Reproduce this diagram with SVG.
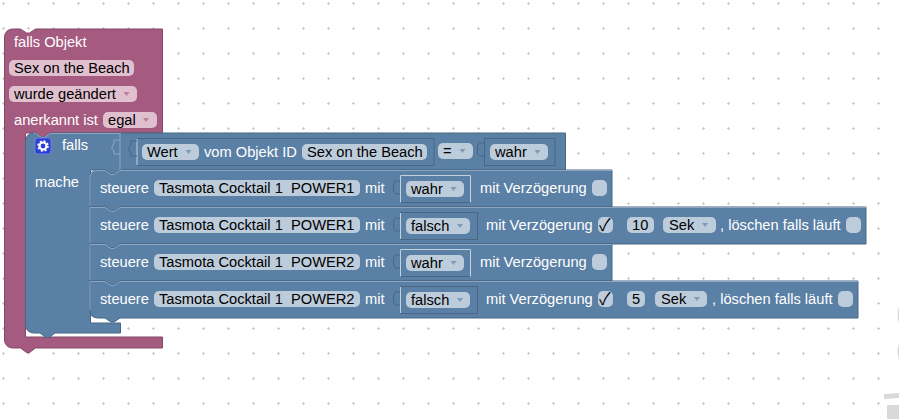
<svg xmlns="http://www.w3.org/2000/svg" width="899" height="419" viewBox="0 0 899 419">
<defs>
<pattern id="grid" width="25" height="25" patternUnits="userSpaceOnUse" x="0" y="0"><path d="M2 3.500h3M3.500 2v3" stroke="#ccc" stroke-width="1"/></pattern>
</defs>
<style>
text{font-family:"Liberation Sans",Arial,sans-serif;font-size:14.670px}
.w{fill:#fff}
.k{fill:#000}
.f{fill:#bdccdb}
.fp{fill:#e0bfcf}
.a{fill:#5b80a5}
.ap{fill:#a55b80}
.tri{fill:#5b80a5;opacity:.65}
.trp{fill:#a55b80;opacity:.65}
.box{fill:none;stroke:#496684;stroke-width:1}
.lt{fill:none;stroke:#c3d1df;stroke-width:1}
.hl{fill:none;stroke:#8ca6c0;stroke-width:1}
.b{fill:#5b80a5;stroke:#496684;stroke-width:1}
.chk{font-family:"Noto Sans CJK SC","DejaVu Sans",sans-serif;font-size:17px}
</style>
<rect width="899" height="419" fill="#fff"/>
<rect width="899" height="419" fill="url(#grid)"/>
<g id="bg-icons" fill="#d9d9d9">
<path d="M899 307q-3 8 0 16zM899 344q-3 7 0 15z"/>
<path d="M884 394l15-1v5l-15 1z"/><rect x="887" y="405" width="12" height="14"/>
</g>
<g id="object-block">
<path d="M4.500 37a8 8 0 0 1 8-8h8l6 4h3l6-4h127v104h-112l-6 5h-3l-6-5h-10v204h137v11h-127l-6 4.500h-3l-6-4.500h-8a8 8 0 0 1-8-8z" class="ap" stroke="#844966"/>
<text class="w" x="14" y="47">falls Objekt</text>
<rect class="fp" x="9" y="60" width="125" height="16" rx="5"/><text class="k" x="14" y="73">Sex on the Beach</text>
<rect class="fp" x="9" y="86" width="128" height="16" rx="5"/><text class="k" x="14" y="99">wurde geändert</text><path class="trp" d="M123.500 92h6l-3 4z"/>
<text class="w" x="14" y="125">anerkannt ist</text>
<rect class="fp" x="103" y="112" width="54" height="16" rx="5"/><text class="k" x="108" y="125">egal</text><path class="trp" d="M143 118h6l-3 4z"/>
</g>
<g id="if-block">
<path d="M25.500 141a8 8 0 0 1 8-8h2l6 4h3l6-4h515v37h-445l-6 4h-3l-6 -4h-15v153h30v10h-65.500l-6 4.500h-3l-6-4.500h-6.500a8 8 0 0 1-8-8z" class="a" stroke="#496684"/>
<path d="M33.500 133.500h2l6 4h3l6-4h70" class="hl"/>
<rect x="35" y="138" width="16" height="16" rx="3" fill="#2b3fd6" stroke="#6c7fe0"/>
<circle cx="43" cy="146" r="3.500" fill="none" stroke="#fff" stroke-width="2.200"/><circle cx="43" cy="146" r="5" fill="none" stroke="#fff" stroke-width="1.500" stroke-dasharray="2 1.930"/>
<text class="w" x="62" y="150">falls</text>
<text class="w" x="35" y="187">mache</text>
<path d="M120 133v37" class="hl"/>
<path d="M120 140h-6v4l-2 2v3l2 2v3h6" class="hl"/>
</g>
<g id="condition-block">
<path d="M137 138.500h297v27h-297" class="box"/>
<path d="M137 139v26" class="lt"/>
<path d="M137 141h-6v4l-2 2v4l2 2v3h6" class="box"/>
<rect class="f" x="142" y="144" width="57" height="16" rx="5"/><text class="k" x="147" y="157">Wert</text><path class="tri" d="M185.500 150h6l-3 4z"/>
<text class="w" x="204" y="157">vom Objekt ID</text>
<rect class="f" x="302" y="144" width="125" height="16" rx="5"/><text class="k" x="307" y="157">Sex on the Beach</text>
<rect class="f" x="438" y="143" width="35" height="16" rx="5"/><text class="k" x="443" y="156">=</text><path class="tri" d="M459.500 149h6l-3 4z"/>
<rect class="box" x="484.500" y="138.500" width="70.500" height="27"/>
<path d="M484.500 143h-5l-2 3v8l2 2h5" class="box"/>
<rect class="f" x="490" y="144" width="58" height="16" rx="5"/><text class="k" x="495" y="157">wahr</text><path class="tri" d="M534.500 150h6l-3 4z"/>
</g>
<g id="set-1">
<path class="b" d="M90 178q0-8 8-8h7l6 4h3l6-4h492v37h-492l-6 4h-3l-6-4h-15z"/>
<path d="M90 206v-28q0-7.500 8-7.500h7l6 4h3l6-4h492" class="hl"/>
<text class="w" x="100" y="193">steuere</text>
<rect class="f" x="154" y="180" width="206" height="16" rx="5"/><text class="k" x="159" y="193" xml:space="preserve">Tasmota Cocktail 1  POWER1</text>
<text class="w" x="365" y="193">mit</text>
<path d="M400.500 181h-5l-2 3v7l2 3h5" class="box"/>
<rect class="box" x="400.500" y="175.500" width="70" height="27"/>
<path d="M400.500 202.500v-27h70v27" class="lt"/>
<rect class="f" x="406" y="181" width="58" height="16" rx="5"/><text class="k" x="411" y="194">wahr</text><path class="tri" d="M450.500 187h6l-3 4z"/>
<text class="w" x="480" y="193">mit Verzögerung</text>
<rect class="f" x="592" y="180" width="15" height="16" rx="5"/>
</g>
<g id="set-2">
<path class="b" d="M90 207h15l6 4h3l6-4h746v37h-746l-6 4h-3l-6-4h-15z"/>
<path d="M90 243v-35.500h15l6 4h3l6-4h746" class="hl"/>
<text class="w" x="100" y="230">steuere</text>
<rect class="f" x="154" y="217" width="206" height="16" rx="5"/><text class="k" x="159" y="230" xml:space="preserve">Tasmota Cocktail 1  POWER1</text>
<text class="w" x="365" y="230">mit</text>
<path d="M400.500 218h-5l-2 3v7l2 3h5" class="box"/>
<rect class="box" x="400.500" y="212.500" width="77" height="27"/>
<path d="M400.500 213v26" class="lt"/>
<rect class="f" x="406" y="218" width="64" height="16" rx="5"/><text class="k" x="411" y="231">falsch</text><path class="tri" d="M457 224h6l-3 4z"/>
<text class="w" x="486" y="230">mit Verzögerung</text>
<rect class="f" x="598" y="217" width="15" height="16" rx="5"/><text class="k chk" x="599" y="231">✓</text>
<rect class="f" x="627" y="217" width="27" height="16" rx="5"/><text class="k" x="632" y="230">10</text>
<rect class="f" x="663" y="217" width="53" height="16" rx="5"/><text class="k" x="669" y="230">Sek</text><path class="tri" d="M702 223h6l-3 4z"/>
<text class="w" x="720" y="230">, löschen falls läuft</text>
<rect class="f" x="846" y="217" width="15" height="16" rx="5"/>
</g>
<g id="set-3">
<path class="b" d="M90 244h15l6 4h3l6-4h492v37h-492l-6 4h-3l-6-4h-15z"/>
<path d="M90 280v-35.500h15l6 4h3l6-4h492" class="hl"/>
<text class="w" x="100" y="267">steuere</text>
<rect class="f" x="154" y="254" width="206" height="16" rx="5"/><text class="k" x="159" y="267" xml:space="preserve">Tasmota Cocktail 1  POWER2</text>
<text class="w" x="365" y="267">mit</text>
<path d="M400.500 255h-5l-2 3v7l2 3h5" class="box"/>
<rect class="box" x="400.500" y="249.500" width="70" height="27"/>
<path d="M400.500 276.500v-27h70v27" class="lt"/>
<rect class="f" x="406" y="255" width="58" height="16" rx="5"/><text class="k" x="411" y="268">wahr</text><path class="tri" d="M450.500 261h6l-3 4z"/>
<text class="w" x="480" y="267">mit Verzögerung</text>
<rect class="f" x="592" y="254" width="15" height="16" rx="5"/>
</g>
<g id="set-4">
<path class="b" d="M90 281h15l6 4h3l6-4h738v37h-738l-6 4h-3l-6-4h-7q-8 0-8-8z"/>
<path d="M90 310v-28.500h15l6 4h3l6-4h738" class="hl"/>
<text class="w" x="100" y="304">steuere</text>
<rect class="f" x="154" y="291" width="206" height="16" rx="5"/><text class="k" x="159" y="304" xml:space="preserve">Tasmota Cocktail 1  POWER2</text>
<text class="w" x="365" y="304">mit</text>
<path d="M400.500 292h-5l-2 3v7l2 3h5" class="box"/>
<rect class="box" x="400.500" y="286.500" width="77" height="27"/>
<path d="M400.500 287v26" class="lt"/>
<rect class="f" x="406" y="292" width="64" height="16" rx="5"/><text class="k" x="411" y="305">falsch</text><path class="tri" d="M457 298h6l-3 4z"/>
<text class="w" x="486" y="304">mit Verzögerung</text>
<rect class="f" x="598" y="291" width="15" height="16" rx="5"/><text class="k chk" x="599" y="305">✓</text>
<rect class="f" x="627" y="291" width="18" height="16" rx="5"/><text class="k" x="632" y="304">5</text>
<rect class="f" x="655" y="291" width="52" height="16" rx="5"/><text class="k" x="661" y="304">Sek</text><path class="tri" d="M694 297h6l-3 4z"/>
<text class="w" x="712" y="304">, löschen falls läuft</text>
<rect class="f" x="838" y="291" width="15" height="16" rx="5"/>
</g>
<g id="connectors"></g>
</svg>
